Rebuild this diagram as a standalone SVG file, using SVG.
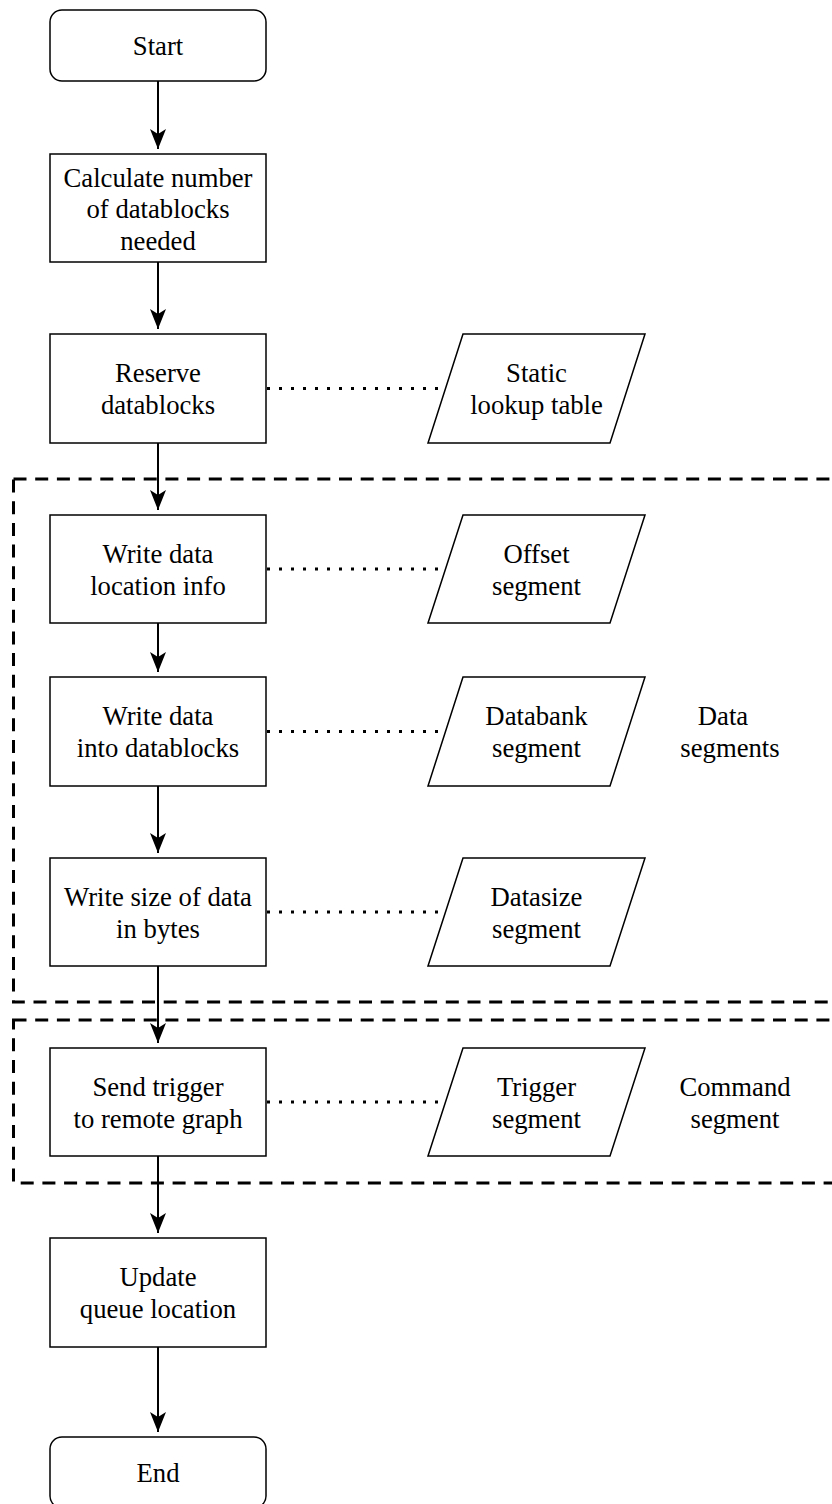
<svg xmlns="http://www.w3.org/2000/svg" width="832" height="1504" viewBox="0 0 832 1504">
<style>
.box{fill:#fff;stroke:#000;stroke-width:1.5}
.t{font-family:'Liberation Serif','Times New Roman',Times,serif;font-size:26.7px;fill:#000;text-anchor:middle}
.arr{fill:none;stroke:#000;stroke-width:2}
.dot{fill:none;stroke:#000;stroke-width:3;stroke-dasharray:3 9}
.dash{fill:none;stroke:#000;stroke-width:3;stroke-dasharray:13 8.7}
</style>
<defs>
<marker id="ah" markerUnits="userSpaceOnUse" markerWidth="24" markerHeight="20" viewBox="-21 -10 22 20" refX="0" refY="0" orient="auto">
<path d="M0,0 L-20,-8 L-15,0 L-20,8 Z" fill="#000"/>
</marker>
</defs>
<g id="groups">
<rect id="data-segments-box" class="dash" x="13.5" y="479" width="840" height="523"/>
<rect id="command-segment-box" class="dash" x="13.5" y="1020" width="840" height="163"/>
</g>
<g id="connectors">
<path class="arr" d="M158,81 V149" marker-end="url(#ah)"/>
<path class="arr" d="M158,262 V329" marker-end="url(#ah)"/>
<path class="arr" d="M158,443 V510" marker-end="url(#ah)"/>
<path class="arr" d="M158,623 V672" marker-end="url(#ah)"/>
<path class="arr" d="M158,786 V853" marker-end="url(#ah)"/>
<path class="arr" d="M158,966 V1043" marker-end="url(#ah)"/>
<path class="arr" d="M158,1156 V1233" marker-end="url(#ah)"/>
<path class="arr" d="M158,1347 V1432" marker-end="url(#ah)"/>
<path class="dot" d="M267,388.5 H445"/>
<path class="dot" d="M267,569 H445"/>
<path class="dot" d="M267,731.5 H445"/>
<path class="dot" d="M267,912 H445"/>
<path class="dot" d="M267,1102 H445"/>
</g>
<g id="start">
<rect class="box" x="50" y="10" width="216" height="71" rx="12"/>
<text class="t" x="158" y="55">Start</text>
</g>
<g id="calc">
<rect class="box" x="50" y="154" width="216" height="108"/>
<text class="t" x="158" y="186.5">Calculate number</text>
<text class="t" x="158" y="218">of datablocks</text>
<text class="t" x="158" y="249.5">needed</text>
</g>
<g id="reserve">
<rect class="box" x="50" y="334" width="216" height="109"/>
<text class="t" x="158" y="382">Reserve</text>
<text class="t" x="158" y="414">datablocks</text>
</g>
<g id="static">
<path class="box" d="M463,334 H645 L610,443 H428 Z"/>
<text class="t" x="536.5" y="382">Static</text>
<text class="t" x="536.5" y="414">lookup table</text>
</g>
<g id="write-loc">
<rect class="box" x="50" y="515" width="216" height="108"/>
<text class="t" x="158" y="562.5">Write data</text>
<text class="t" x="158" y="594.5">location info</text>
</g>
<g id="offset">
<path class="box" d="M463,515 H645 L610,623 H428 Z"/>
<text class="t" x="536.5" y="562.5">Offset</text>
<text class="t" x="536.5" y="594.5">segment</text>
</g>
<g id="write-into">
<rect class="box" x="50" y="677" width="216" height="109"/>
<text class="t" x="158" y="725">Write data</text>
<text class="t" x="158" y="757">into datablocks</text>
</g>
<g id="databank">
<path class="box" d="M463,677 H645 L610,786 H428 Z"/>
<text class="t" x="536.5" y="725">Databank</text>
<text class="t" x="536.5" y="757">segment</text>
</g>
<g id="data-segments-label">
<text class="t" x="723" y="725">Data</text>
<text class="t" x="730" y="757">segments</text>
</g>
<g id="write-size">
<rect class="box" x="50" y="858" width="216" height="108"/>
<text class="t" x="158" y="905.5">Write size of data</text>
<text class="t" x="158" y="937.5">in bytes</text>
</g>
<g id="datasize">
<path class="box" d="M463,858 H645 L610,966 H428 Z"/>
<text class="t" x="536.5" y="905.5">Datasize</text>
<text class="t" x="536.5" y="937.5">segment</text>
</g>
<g id="send">
<rect class="box" x="50" y="1048" width="216" height="108"/>
<text class="t" x="158" y="1095.5">Send trigger</text>
<text class="t" x="158" y="1127.5">to remote graph</text>
</g>
<g id="trigger">
<path class="box" d="M463,1048 H645 L610,1156 H428 Z"/>
<text class="t" x="536.5" y="1095.5">Trigger</text>
<text class="t" x="536.5" y="1127.5">segment</text>
</g>
<g id="command-segment-label">
<text class="t" x="735" y="1095.5">Command</text>
<text class="t" x="735" y="1127.5">segment</text>
</g>
<g id="update">
<rect class="box" x="50" y="1238" width="216" height="109"/>
<text class="t" x="158" y="1286">Update</text>
<text class="t" x="158" y="1318">queue location</text>
</g>
<g id="end">
<rect class="box" x="50" y="1437" width="216" height="71" rx="12"/>
<text class="t" x="158" y="1482">End</text>
</g>
</svg>
